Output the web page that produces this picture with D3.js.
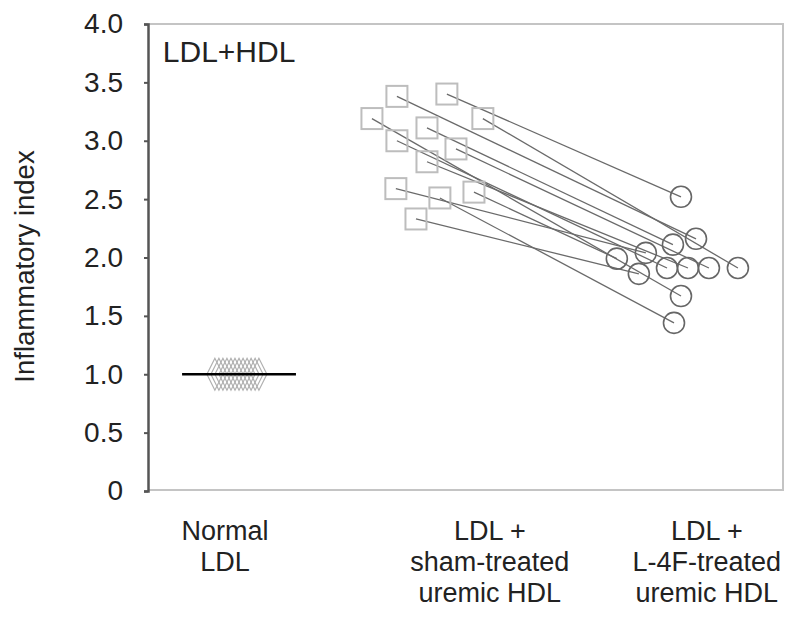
<!DOCTYPE html>
<html>
<head>
<meta charset="utf-8">
<script src="https://cdn.jsdelivr.net/npm/d3@7"></script>
<style>
  html, body { margin: 0; padding: 0; background: #fff; }
  svg { display: block; font-family: Arial, "Liberation Sans", Helvetica, sans-serif; }
</style>
</head>
<body>
<svg id="chart" width="800" height="628"></svg>
<script>
// ---- data ----
const categories = [["Normal", "LDL"], ["LDL +", "sham-treated", "uremic HDL"], ["LDL +", "L-4F-treated", "uremic HDL"]];
const categoryPos = [0.364, 1.615, 2.64];           // label centres (x units)
const yTicks = [0, 0.5, 1.0, 1.5, 2.0, 2.5, 3.0, 3.5, 4.0];

const normalValues = [1.0, 1.0, 1.0, 1.0, 1.0, 1.0, 1.0, 1.0, 1.0, 1.0, 1.0, 1.0];
const normalX = [0.316, 0.335, 0.354, 0.373, 0.392, 0.411, 0.430, 0.449, 0.468, 0.487, 0.506, 0.524];
const normalMean = 1.0;
const normalMeanSpan = [0.161, 0.699];

const shamValues = [3.40, 3.38, 3.19, 3.19, 3.11, 3.00, 2.93, 2.82, 2.59, 2.56, 2.51, 2.33];
const shamX      = [1.412, 1.176, 1.058, 1.582, 1.318, 1.176, 1.455, 1.318, 1.171, 1.540, 1.379, 1.266];
const l4fValues  = [2.52, 2.16, 1.67, 1.91, 2.11, 1.91, 1.91, 1.91, 2.04, 1.99, 1.44, 1.86];
const l4fX       = [2.518, 2.589, 2.518, 2.787, 2.480, 2.452, 2.650, 2.551, 2.352, 2.215, 2.485, 2.319];

const panelLabel = "LDL+HDL";
const yTitle = "Inflammatory index";

// ---- layout ----
const mLeft = 148, mRight = 783, mTop = 24, mBottom = 491;
const svg = d3.select("#chart");
const x = d3.scaleLinear().domain([0, 3]).range([mLeft, mRight]);
const y = d3.scaleLinear().domain([0, 4]).range([mBottom, mTop]);

// frame (light grey)
svg.append("path")
  .attr("d", `M${mLeft},${mTop}H${mRight}V${mBottom - 1}H${mLeft}`)
  .attr("fill", "none").attr("stroke", "#c4c4c4").attr("stroke-width", 2);

// y axis
const yAxis = d3.axisLeft(y).tickValues(yTicks).tickSize(4).tickPadding(21)
  .tickFormat(d => d === 0 ? "0" : d.toFixed(1));
const ga = svg.append("g").attr("transform", `translate(${mLeft},0)`).call(yAxis);
ga.select(".domain").attr("stroke", "#555").attr("stroke-width", 2.5);
ga.selectAll(".tick line").attr("stroke", "#555").attr("stroke-width", 2);
ga.selectAll(".tick text").attr("font-size", 28).attr("fill", "#222")
  .attr("font-family", "Arial, 'Liberation Sans', sans-serif");

// y title
svg.append("text")
  .attr("transform", `translate(34,${(mTop + mBottom) / 2 + 9}) rotate(-90)`)
  .attr("text-anchor", "middle").attr("font-size", 27.5).attr("fill", "#222")
  .text(yTitle);

// panel label
svg.append("text").attr("x", x(0.07)).attr("y", y(3.675))
  .attr("font-size", 30).attr("fill", "#222").text(panelLabel);

// category labels
categories.forEach((lines, i) => {
  const t = svg.append("text").attr("text-anchor", "middle").attr("font-size", 27).attr("fill", "#222");
  lines.forEach((ln, j) => {
    t.append("tspan").attr("x", x(categoryPos[i])).attr("y", 540 + j * 31).text(ln);
  });
});

// connecting lines
const pairs = shamValues.map((v, i) => ({ v0: v, x0: shamX[i], v1: l4fValues[i], x1: l4fX[i] }));
svg.append("g").selectAll("line").data(pairs).join("line")
  .attr("x1", d => x(d.x0)).attr("y1", d => y(d.v0))
  .attr("x2", d => x(d.x1)).attr("y2", d => y(d.v1))
  .attr("stroke", "#6a6a6a").attr("stroke-width", 1.3);

// normal LDL diamonds
svg.append("g").selectAll("path").data(normalValues.map((v, i) => ({ v, xv: normalX[i] }))).join("path")
  .attr("d", d => { const cx = x(d.xv), cy = y(d.v); return `M${cx - 8},${cy}L${cx},${cy - 16}L${cx + 8},${cy}L${cx},${cy + 16}Z`; })
  .attr("fill", "none").attr("stroke", "#b0b0b0").attr("stroke-width", 1.2);

svg.append("line")
  .attr("x1", x(normalMeanSpan[0])).attr("x2", x(normalMeanSpan[1]))
  .attr("y1", y(normalMean)).attr("y2", y(normalMean))
  .attr("stroke", "#000").attr("stroke-width", 2.5);

// sham squares
svg.append("g").selectAll("rect").data(pairs).join("rect")
  .attr("x", d => x(d.x0) - 10.5).attr("y", d => y(d.v0) - 10.5)
  .attr("width", 21).attr("height", 21)
  .attr("fill", "none").attr("stroke", "#bdbdbd").attr("stroke-width", 2);

// L-4F circles
svg.append("g").selectAll("circle").data(pairs).join("circle")
  .attr("cx", d => x(d.x1)).attr("cy", d => y(d.v1)).attr("r", 10.5)
  .attr("fill", "none").attr("stroke", "#666").attr("stroke-width", 1.6);
</script>
</body>
</html>
